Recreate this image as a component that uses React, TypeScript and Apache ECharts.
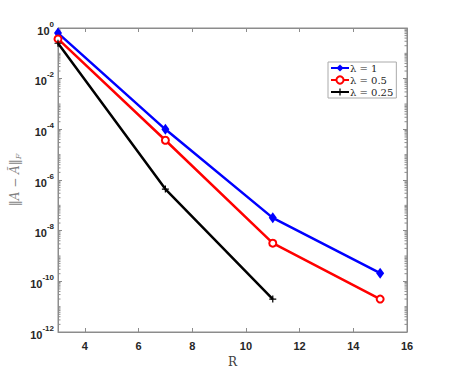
import React, { useEffect, useRef } from "react";
import * as echarts from "echarts";

const xValues = [3, 7, 11, 15];
const lambda1 = [0.63, 1.0e-4, 3.2e-8, 2.1e-10];
const lambda05 = [0.37, 3.7e-5, 3.2e-9, 2.0e-11];
const xValuesB = [3, 7, 11];
const lambda025 = [0.25, 4.4e-7, 2.0e-11];
const xTicks = [4, 6, 8, 10, 12, 14, 16];
const seriesNames = ["λ = 1", "λ = 0.5", "λ = 0.25"];

const minorTickValues: number[] = [];
for (let e = -12; e < 0; e++) {
  for (let m = 1; m <= 9; m++) {
    if (m === 1 && e % 2 === 0) continue;
    minorTickValues.push(m * Math.pow(10, e));
  }
}

const plusPath = "path://M-0.7,-4H0.7V-0.7H4V0.7H0.7V4H-0.7V0.7H-4V-0.7H-0.7Z";
const axisGray = "#8c8c8c";
const labelColor = "#262626";

export default function App() {
  const ref = useRef<HTMLDivElement>(null);
  useEffect(() => {
    const chart = echarts.init(ref.current!, null, { renderer: "svg" });
    const expLabel = (v: number) => {
      const e = Math.round(Math.log10(v));
      return `{b|10}{s|${e}}`;
    };
    const rich = {
      b: { fontSize: 11, fontWeight: "bold", color: labelColor, fontFamily: "Liberation Sans", verticalAlign: "bottom" },
      s: { fontSize: 8, fontWeight: "bold", color: labelColor, fontFamily: "Liberation Sans", padding: [0, 0, 8, 0], verticalAlign: "bottom" },
    };
    chart.setOption({
      animation: false,
      backgroundColor: "#ffffff",
      grid: { left: 58, right: 42, top: 28, bottom: 42, show: true, borderColor: axisGray, borderWidth: 1, backgroundColor: "transparent" },
      legend: {
        data: seriesNames,
        orient: "vertical",
        left: 328,
        top: 62,
        itemGap: 2,
        itemWidth: 18,
        itemHeight: 9,
        padding: [1, 3, 1, 2],
        borderColor: "#aaaaaa",
        borderWidth: 1,
        backgroundColor: "#ffffff",
        textStyle: { fontFamily: "DejaVu Serif", fontSize: 10, color: labelColor, padding: [0, 0, 0, -4] },
      },
      xAxis: [
        {
          type: "value",
          min: 3,
          max: 16,
          name: "R",
          nameLocation: "middle",
          nameGap: 22,
          nameTextStyle: { fontFamily: "DejaVu Serif", fontSize: 12, color: "#404040" },
          axisLine: { show: true, lineStyle: { color: axisGray } },
          axisTick: { show: true, inside: true, length: 4, customValues: xTicks, lineStyle: { color: axisGray } },
          axisLabel: { customValues: xTicks, color: labelColor, fontSize: 11, fontWeight: "bold", fontFamily: "Liberation Sans", margin: 8 },
          splitLine: { show: false },
        },
        {
          type: "value",
          min: 3,
          max: 16,
          position: "top",
          axisLine: { show: true, lineStyle: { color: axisGray } },
          axisTick: { show: true, inside: true, length: 4, customValues: xTicks, lineStyle: { color: axisGray } },
          axisLabel: { show: false },
          splitLine: { show: false },
        },
      ],
      yAxis: [
        {
          type: "log",
          min: 1e-12,
          max: 1,
          interval: 2,
          name: "‖A − Ã‖{f|F}",
          nameLocation: "middle",
          nameGap: 36,
          nameMoveOverlap: false,
          nameTextStyle: {
            fontFamily: "DejaVu Serif",
            fontStyle: "italic",
            fontSize: 12,
            color: "#7f7f7f",
            rich: { f: { fontFamily: "DejaVu Serif", fontStyle: "italic", fontSize: 8, color: "#7f7f7f", padding: [6, 0, 0, 0] } },
          },
          axisLine: { show: true, lineStyle: { color: axisGray } },
          axisTick: { show: true, inside: true, length: 4, lineStyle: { color: axisGray } },
          axisLabel: { formatter: expLabel, rich, margin: 4 },
          splitLine: { show: false },
        },
        {
          type: "log",
          min: 1e-12,
          max: 1,
          interval: 2,
          position: "right",
          axisLine: { show: true, lineStyle: { color: axisGray } },
          axisTick: { show: true, inside: true, length: 4, lineStyle: { color: axisGray } },
          axisLabel: { show: false },
          splitLine: { show: false },
        },
      ],
      series: [
        {
          type: "custom",
          silent: true,
          xAxisIndex: 0,
          yAxisIndex: 0,
          data: minorTickValues.map((v) => [3, v]),
          encode: { x: 0, y: 1 },
          renderItem: (params: any, api: any) => {
            const v = api.value(1);
            const l = api.coord([3, v]);
            const r = api.coord([16, v]);
            const style = { stroke: axisGray, lineWidth: 1 };
            return {
              type: "group",
              children: [
                { type: "line", shape: { x1: l[0], y1: l[1], x2: l[0] + 2.5, y2: l[1] }, style },
                { type: "line", shape: { x1: r[0], y1: r[1], x2: r[0] - 2.5, y2: r[1] }, style },
              ],
            };
          },
        },
        {
          name: seriesNames[0],
          type: "line",
          data: xValues.map((x, i) => [x, lambda1[i]]),
          symbol: "diamond",
          symbolSize: [8, 11],
          lineStyle: { color: "#0000ff", width: 2.5 },
          itemStyle: { color: "#0000ff" },
        },
        {
          name: seriesNames[1],
          type: "line",
          data: xValues.map((x, i) => [x, lambda05[i]]),
          symbol: "emptyCircle",
          symbolSize: 7,
          lineStyle: { color: "#ff0000", width: 2.5 },
          itemStyle: { color: "#ff0000", borderWidth: 2.5, borderColor: "#ff0000" },
        },
        {
          name: seriesNames[2],
          type: "line",
          data: xValuesB.map((x, i) => [x, lambda025[i]]),
          symbol: plusPath,
          symbolSize: 7,
          lineStyle: { color: "#000000", width: 2.5 },
          itemStyle: { color: "#000000" },
        },
      ],
    });
    return () => chart.dispose();
  }, []);
  return <div ref={ref} style={{ width: 449, height: 374, position: "absolute", left: 0, top: 0 }} />;
}
